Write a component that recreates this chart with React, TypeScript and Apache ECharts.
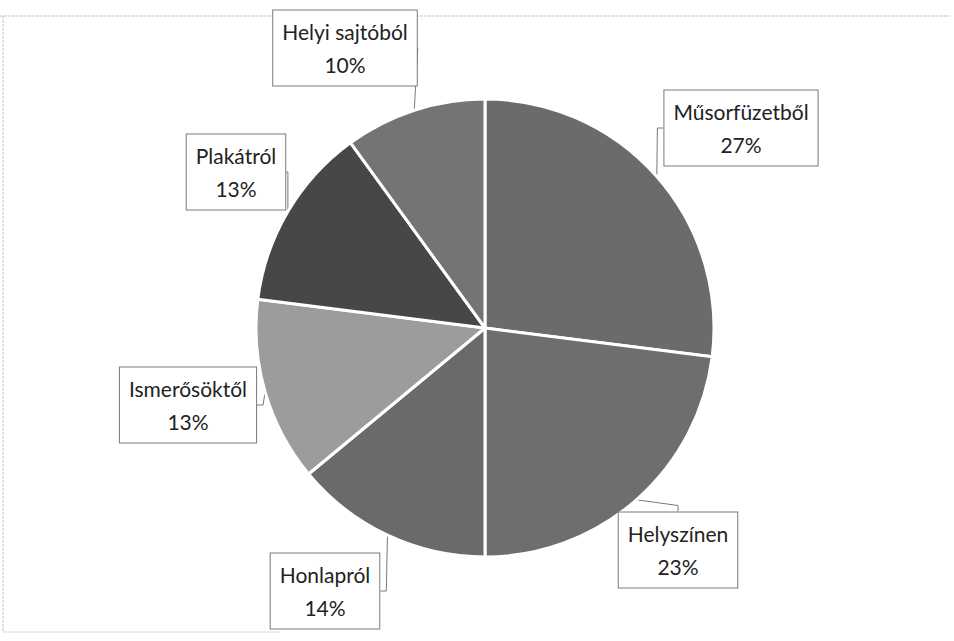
import React, { useEffect, useRef } from "react";
import * as echarts from "echarts";

const categories = ["Műsorfüzetből", "Helyszínen", "Honlapról", "Ismerősöktől", "Plakátról", "Helyi sajtóból"];
const values = [27, 23, 14, 13, 13, 10];
const sliceColors = ["#6b6b6b", "#6e6e6e", "#6a6a6a", "#9c9c9c", "#474747", "#747474"];

// label box centres (layout only)
const labelCentres: [number, number][] = [
  [741, 128],
  [678, 550],
  [325, 591],
  [188, 405],
  [236, 172],
  [345, 48],
];

export default function App() {
  const ref = useRef<HTMLDivElement>(null);
  useEffect(() => {
    if (!ref.current) return;
    const chart = echarts.init(ref.current, null, { renderer: "svg" });
    chart.setOption({
      animation: false,
      backgroundColor: "#ffffff",
      graphic: [
        { type: "line", shape: { x1: 0, y1: 16, x2: 950, y2: 16 }, style: { stroke: "#c4c4c4", lineWidth: 1, lineDash: [3, 1] } },
        { type: "line", shape: { x1: 3, y1: 16, x2: 3, y2: 632 }, style: { stroke: "#c4c4c4", lineWidth: 1, lineDash: [3, 1] } },
        { type: "line", shape: { x1: 3, y1: 632, x2: 280, y2: 632 }, style: { stroke: "#d0d0d0", lineWidth: 1, lineDash: [3, 1] } },
      ],
      series: [
        {
          type: "pie",
          center: [485, 328],
          radius: 229,
          startAngle: 90,
          clockwise: true,
          data: categories.map((name, i) => ({
            name,
            value: values[i],
            itemStyle: { color: sliceColors[i] },
          })),
          itemStyle: { borderColor: "#ffffff", borderWidth: 3 },
          label: {
            show: true,
            position: "outside",
            formatter: "{b}\n{c}%",
            fontFamily: "Lato, 'Noto Sans', sans-serif",
            fontSize: 21,
            lineHeight: 33,
            color: "#222222",
            backgroundColor: "#ffffff",
            borderColor: "#7a7a7a",
            borderWidth: 1,
            padding: [5, 9, 4, 9],
            align: "center",
          },
          labelLine: {
            show: true,
            length: 8,
            length2: 6,
            smooth: false,
            lineStyle: { color: "#7a7a7a", width: 1 },
          },
          labelLayout: (params: any) => {
            const c = labelCentres[params.dataIndex];
            return { x: c[0], y: c[1], align: "center", verticalAlign: "middle" };
          },
          emphasis: { disabled: true },
        },
      ],
    });
    return () => chart.dispose();
  }, []);
  return (
    <div
      ref={ref}
      style={{ position: "fixed", left: 0, top: 0, width: 954, height: 641 }}
    />
  );
}
